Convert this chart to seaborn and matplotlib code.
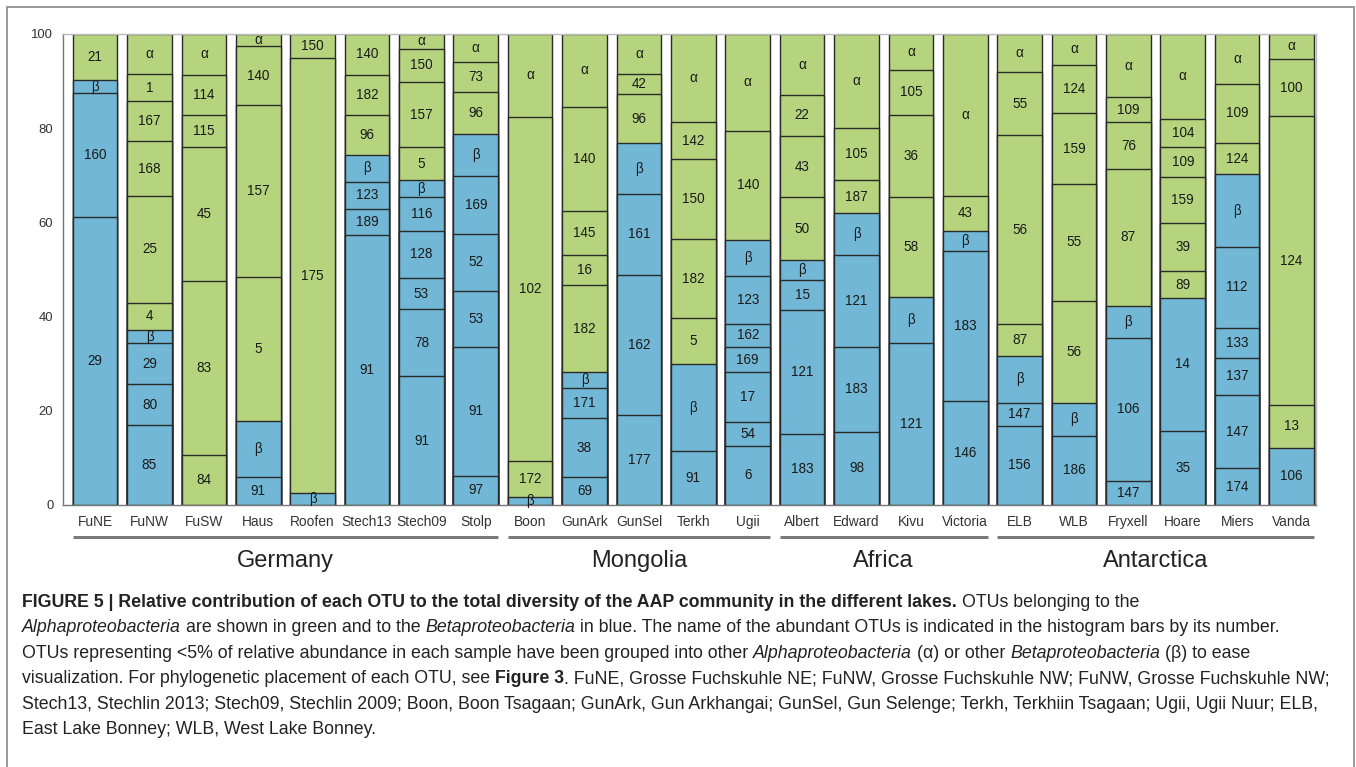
import numpy as np
import pandas as pd
import seaborn as sns
import matplotlib.pyplot as plt
from matplotlib import font_manager
from matplotlib.patches import Rectangle

# lakes, bottom-to-top OTU stacks (percent of AAP community)
lakes = ["FuNE", "FuNW", "FuSW", "Haus", "Roofen", "Stech13", "Stech09", "Stolp",
         "Boon", "GunArk", "GunSel", "Terkh", "Ugii",
         "Albert", "Edward", "Kivu", "Victoria",
         "ELB", "WLB", "Fryxell", "Hoare", "Miers", "Vanda"]
regions = ["Germany", "Mongolia", "Africa", "Antarctica"]
region_sizes = [8, 5, 4, 6]

otu_labels = [
    ["29", "160", "β", "21"],
    ["85", "80", "29", "β", "4", "25", "168", "167", "1", "α"],
    ["84", "83", "45", "115", "114", "α"],
    ["91", "β", "5", "157", "140", "α"],
    ["β", "175", "150"],
    ["91", "189", "123", "β", "96", "182", "140"],
    ["91", "78", "53", "128", "116", "β", "5", "157", "150", "α"],
    ["97", "91", "53", "52", "169", "β", "96", "73", "α"],
    ["β", "172", "102", "α"],
    ["69", "38", "171", "β", "182", "16", "145", "140", "α"],
    ["177", "162", "161", "β", "96", "42", "α"],
    ["91", "β", "5", "182", "150", "142", "α"],
    ["6", "54", "17", "169", "162", "123", "β", "140", "α"],
    ["183", "121", "15", "β", "50", "43", "22", "α"],
    ["98", "183", "121", "β", "187", "105", "α"],
    ["121", "β", "58", "36", "105", "α"],
    ["146", "183", "β", "43", "α"],
    ["156", "147", "β", "87", "56", "55", "α"],
    ["186", "β", "56", "55", "159", "124", "α"],
    ["147", "106", "β", "87", "76", "109", "α"],
    ["35", "14", "89", "39", "159", "109", "104", "α"],
    ["174", "147", "137", "133", "112", "β", "124", "109", "α"],
    ["106", "13", "124", "100", "α"],
]
otu_values = [
    [61.2, 26.2, 2.8, 9.8],
    [17.0, 8.6, 8.7, 2.8, 5.8, 22.7, 11.5, 8.5, 5.8, 8.5],
    [10.6, 36.9, 28.3, 6.9, 8.5, 8.6],
    [6.0, 11.8, 30.6, 36.4, 12.4, 2.6],
    [2.5, 92.4, 5.1],
    [57.2, 5.6, 5.7, 5.8, 8.5, 8.5, 8.6],
    [27.4, 14.2, 6.6, 10.1, 7.1, 3.7, 6.9, 13.9, 7.1, 3.1],
    [6.2, 27.3, 11.8, 12.2, 12.3, 8.9, 8.8, 6.3, 6.0],
    [1.8, 7.6, 73.0, 17.5],
    [6.0, 12.4, 6.5, 3.3, 18.5, 6.4, 9.3, 22.2, 15.4],
    [19.2, 29.7, 17.1, 10.8, 10.5, 4.2, 8.5],
    [11.5, 18.4, 9.8, 16.8, 17.0, 7.8, 18.8],
    [12.6, 5.0, 10.6, 5.3, 5.0, 10.2, 7.6, 23.2, 20.5],
    [15.1, 26.2, 6.4, 4.4, 13.2, 13.1, 8.6, 13.0],
    [15.6, 17.9, 19.6, 8.8, 7.1, 11.0, 20.0],
    [34.5, 9.6, 21.3, 17.5, 9.4, 7.7],
    [22.1, 31.8, 4.3, 7.4, 34.3],
    [16.8, 4.8, 10.0, 6.7, 40.0, 13.4, 8.1],
    [14.7, 6.9, 21.7, 24.8, 15.0, 10.3, 6.5],
    [5.1, 30.4, 6.7, 29.1, 9.9, 5.3, 13.4],
    [15.8, 28.2, 5.7, 10.3, 9.8, 6.2, 6.1, 18.0],
    [7.8, 15.6, 7.8, 6.4, 17.2, 15.4, 6.7, 12.5, 10.6],
    [12.2, 9.1, 61.2, 12.2, 5.3],
]
# number of Betaproteobacteria segments at the bottom of each bar
n_beta = [3, 4, 0, 2, 1, 4, 6, 6, 1, 4, 4, 2, 7, 4, 4, 2, 3, 3, 2, 3, 2, 6, 1]

clade_colors = {"beta": "#72b7d5", "alpha": "#b6d47d"}


def has_font(name):
    try:
        font_manager.findfont(name, fallback_to_default=False)
        return True
    except ValueError:
        return False


narrow = "Liberation Sans Narrow" if has_font("Liberation Sans Narrow") else "Liberation Sans"
shrink = 1.0 if narrow == "Liberation Sans Narrow" else 0.9

sns.set_theme(style="white")
plt.rcParams["font.family"] = ["Liberation Sans", "DejaVu Sans"]

# %%
rows = []
for i, lake in enumerate(lakes):
    vals = np.array(otu_values[i])
    vals = vals / vals.sum() * 100
    tops = np.cumsum(vals)
    for k, (lab, v, top) in enumerate(zip(otu_labels[i], vals, tops)):
        rows.append(dict(lake=lake, pos=i, layer=k, label=lab, top=top, bottom=top - v,
                         clade="beta" if k < n_beta[i] else "alpha"))
df = pd.DataFrame(rows)

W, H = 1356, 767
fig = plt.figure(figsize=(W / 100, H / 100), dpi=100)
ax = fig.add_axes([63 / W, 1 - 505 / H, (1316 - 63) / W, (505 - 34) / H])

# stacked bars: draw cumulative tops from the highest layer down
for k in sorted(df.layer.unique(), reverse=True):
    sub = df[df.layer == k]
    sns.barplot(data=sub, x="lake", y="top", order=lakes, hue="clade",
                palette=clade_colors, dodge=False, legend=False, errorbar=None,
                width=0.82, saturation=1, edgecolor="#2a2a2a", linewidth=1.0, ax=ax)

for _, r in df.iterrows():
    ax.text(r.pos, (r.top + r.bottom) / 2, r.label, ha="center", va="center",
            fontsize=10.8 * shrink, family=[narrow, "DejaVu Sans"], color="#1a1a1a")

ax.set_xlim(-0.59, len(lakes) - 1 + 0.45)
ax.set_ylim(0, 100)
ax.set_yticks([0, 20, 40, 60, 80, 100])
ax.set_yticklabels(["0", "20", "40", "60", "80", "100"], family=[narrow, "DejaVu Sans"],
                   fontsize=10.5 * shrink, color="#333333")
ax.set_xticks(range(len(lakes)))
ax.set_xticklabels(lakes, family=[narrow, "DejaVu Sans"], fontsize=11 * shrink, color="#333333")
ax.tick_params(axis="x", length=0, pad=7)
ax.tick_params(axis="y", length=3, color="#888888", pad=4)
ax.set_xlabel("")
ax.set_ylabel("")
for side in ["top", "right"]:
    ax.spines[side].set_color("#bbbbbb")
    ax.spines[side].set_linewidth(1.0)
for side in ["left", "bottom"]:
    ax.spines[side].set_color("#777777")
    ax.spines[side].set_linewidth(1.0)

# region brackets below the lake names
start = 0
trans = ax.get_xaxis_transform()
for name, n in zip(regions, region_sizes):
    x0, x1 = start - 0.41, start + n - 1 + 0.41
    ax.plot([x0, x1], [-0.068, -0.068], transform=trans, color="#7a7a7a", lw=2.2,
            clip_on=False, solid_capstyle="butt")
    ax.text((x0 + x1) / 2, -0.119, name, transform=trans, ha="center", va="center",
            fontsize=17, color="#222222")
    start += n

# %%
# caption, laid out piece by piece for mixed bold / italic
caption = [
    [("FIGURE 5 | Relative contribution of each OTU to the total diversity of the AAP community in the different lakes.", "b"),
     (" OTUs belonging to the", "n")],
    [("Alphaproteobacteria", "i"), (" are shown in green and to the ", "n"), ("Betaproteobacteria", "i"),
     (" in blue. The name of the abundant OTUs is indicated in the histogram bars by its number.", "n")],
    [("OTUs representing <5% of relative abundance in each sample have been grouped into other ", "n"),
     ("Alphaproteobacteria", "i"), (" (α) or other ", "n"), ("Betaproteobacteria", "i"), (" (β) to ease", "n")],
    [("visualization. For phylogenetic placement of each OTU, see ", "n"), ("Figure 3", "b"),
     (". FuNE, Grosse Fuchskuhle NE; FuNW, Grosse Fuchskuhle NW; FuNW, Grosse Fuchskuhle NW;", "n")],
    [("Stech13, Stechlin 2013; Stech09, Stechlin 2009; Boon, Boon Tsagaan; GunArk, Gun Arkhangai; "
      "GunSel, Gun Selenge; Terkh, Terkhiin Tsagaan; Ugii, Ugii Nuur; ELB,", "n")],
    [("East Lake Bonney; WLB, West Lake Bonney.", "n")],
]

renderer = fig.canvas.get_renderer()
cap_font = [narrow, "DejaVu Sans"]


def text_width(s, size, style):
    t = fig.text(0, 0, s, fontsize=size, family=cap_font,
                 fontweight="bold" if style == "b" else "normal",
                 fontstyle="italic" if style == "i" else "normal")
    w = t.get_window_extent(renderer).width
    t.remove()
    return w


# fit the widest plain line to the width seen in the figure
size = 12 * 1300 / text_width(caption[4][0][0], 12, "n")
space_w = text_width("x x", size, "n") - text_width("xx", size, "n")

baseline = 607
for line in caption:
    x = 22
    for s, style in line:
        lead = len(s) - len(s.lstrip(" "))
        trail = len(s) - len(s.rstrip(" "))
        x += lead * space_w
        t = fig.text(x / W, 1 - baseline / H, s.strip(" "), fontsize=size, family=cap_font,
                     fontweight="bold" if style == "b" else "normal",
                     fontstyle="italic" if style == "i" else "normal",
                     ha="left", va="baseline", color="#222222")
        x = t.get_window_extent(renderer).x1 + trail * space_w
    baseline += 25.4

fig.add_artist(Rectangle((7 / W, -0.01), (1354 - 7) / W, 1 - 7 / H + 0.01,
                         transform=fig.transFigure, fill=False, edgecolor="#888888", lw=1.2))

fig.savefig("out.png", dpi=100)
